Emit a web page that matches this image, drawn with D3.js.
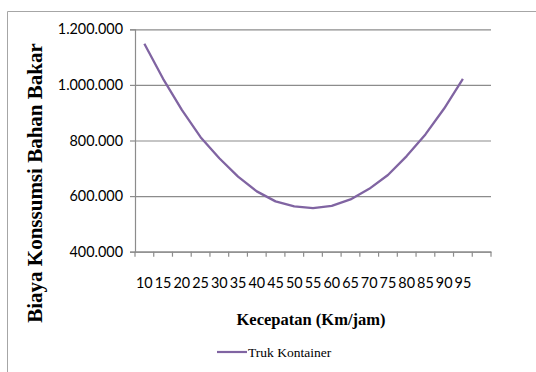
<!DOCTYPE html>
<html>
<head>
<meta charset="utf-8">
<script src="https://cdn.jsdelivr.net/npm/d3@7/dist/d3.min.js"></script>
<style>
  html, body { margin: 0; padding: 0; background: #fff; overflow: hidden; }
  svg { display: block; }
</style>
</head>
<body>
<svg id="chart" width="536" height="372"></svg>
<script>
// Speed categories (km/jam); the axis keeps one trailing empty slot
const speeds = ["10", "15", "20", "25", "30", "35", "40", "45", "50",
                "55", "60", "65", "70", "75", "80", "85", "90", "95"];
const categories = speeds.concat([""]);

// Fuel consumption cost per speed
const costs = [1148000, 1022000, 910000, 812000, 736000, 670000, 617000, 581000, 563000,
               557000, 565000, 588000, 626000, 676000, 744000, 822000, 915000, 1022000];

const yTicks = [400000, 600000, 800000, 1000000, 1200000];
const yDomain = [400000, 1200000];

const seriesName = "Truk Kontainer";
const xTitle = "Kecepatan (Km/jam)";
const yTitle = "Biaya Konssumsi Bahan Bakar";

const plot = { left: 135, right: 491, top: 29.3, bottom: 251.7 };
const gridColor = "#8c8c8c";
const lineColor = "#8064A2";
const labelFont = "Lato, 'Open Sans', sans-serif";
const titleFont = "'Liberation Serif', 'Times New Roman', serif";

const svg = d3.select("#chart");

// chart frame (top and left edges visible)
svg.append("path")
  .attr("d", "M7.5,372 V11.5 H536")
  .attr("fill", "none")
  .attr("stroke", "#a6a6a6")
  .attr("stroke-width", 1);

const x = d3.scaleBand()
  .domain(categories.map((c, i) => i))
  .range([plot.left, plot.right])
  .paddingInner(0).paddingOuter(0);

const y = d3.scaleLinear().domain(yDomain).range([plot.bottom, plot.top]);

const idFormat = d3.formatLocale({ decimal: ",", thousands: ".", grouping: [3], currency: ["Rp", ""] }).format(",d");

// horizontal gridlines
const grid = svg.append("g")
  .attr("transform", `translate(${plot.left},0)`)
  .call(d3.axisLeft(y).tickValues(yTicks).tickSize(-(plot.right - plot.left)).tickFormat(""));
grid.select(".domain").remove();
grid.selectAll("line").attr("stroke", gridColor).attr("stroke-width", 1.2);

// y axis
const yAxis = svg.append("g")
  .attr("transform", `translate(${plot.left},0)`)
  .call(d3.axisLeft(y).tickValues(yTicks).tickSize(5).tickPadding(7).tickFormat(idFormat));
yAxis.select(".domain").attr("stroke", gridColor).attr("stroke-width", 1.2);
yAxis.selectAll("line").attr("stroke", gridColor).attr("stroke-width", 1.2);
yAxis.selectAll("text")
  .attr("fill", "#000")
  .style("font-family", labelFont)
  .style("font-size", "14.4px");

// x axis line with labels at category centres
const xAxis = svg.append("g")
  .attr("transform", `translate(0,${plot.bottom})`)
  .call(d3.axisBottom(x).tickSize(0).tickFormat(i => categories[i]));
xAxis.select(".domain").attr("stroke", gridColor).attr("stroke-width", 1.2);
xAxis.selectAll(".tick text")
  .attr("y", 36.6).attr("dy", 0)
  .attr("fill", "#000")
  .style("font-family", labelFont)
  .style("font-size", "14.4px");

// category boundary tick marks
const boundaries = categories.map((c, i) => x(i)).concat([x.range()[1]]);
svg.append("g").selectAll("line")
  .data(boundaries)
  .join("line")
  .attr("x1", d => d).attr("x2", d => d)
  .attr("y1", plot.bottom).attr("y2", plot.bottom + 5)
  .attr("stroke", gridColor).attr("stroke-width", 1.2);

// cost line
const line = d3.line()
  .x((d, i) => x(i) + x.bandwidth() / 2)
  .y(d => y(d));
svg.append("path")
  .datum(costs)
  .attr("d", line)
  .attr("fill", "none")
  .attr("stroke", lineColor)
  .attr("stroke-width", 2.3)
  .attr("stroke-linejoin", "round");

// axis titles
svg.append("text")
  .attr("transform", "translate(42,183) rotate(-90)")
  .attr("text-anchor", "middle")
  .style("font-family", titleFont)
  .style("font-weight", "bold")
  .style("font-size", "21px")
  .text(yTitle);

svg.append("text")
  .attr("x", 311).attr("y", 325)
  .attr("text-anchor", "middle")
  .style("font-family", titleFont)
  .style("font-weight", "bold")
  .style("font-size", "16.5px")
  .text(xTitle);

// legend
const legend = svg.append("g");
legend.append("line")
  .attr("x1", 217).attr("x2", 247)
  .attr("y1", 352).attr("y2", 352)
  .attr("stroke", lineColor).attr("stroke-width", 2.2);
legend.append("text")
  .attr("x", 248).attr("y", 356.5)
  .style("font-family", titleFont)
  .style("font-size", "13.5px")
  .text(seriesName);
</script>
</body>
</html>
